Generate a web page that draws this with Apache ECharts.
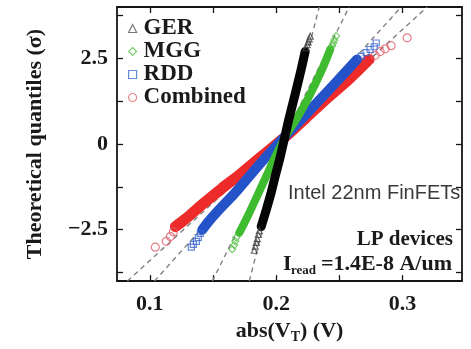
<!DOCTYPE html>
<html>
<head>
<meta charset="utf-8">
<script src="https://cdn.jsdelivr.net/npm/echarts@6/dist/echarts.min.js"></script>
<style>
html,body{margin:0;padding:0;background:#fff;}
#c{width:471px;height:349px;}
</style>
</head>
<body>
<div id="c"></div>
<script>
// ---- data (abs(VT) in V, theoretical quantile in sigma) ----
const seriesNames = ['GER', 'MGG', 'RDD', 'Combined'];

// dense central bands [x, y]
const gerBand = [[0.2229,2.70],[0.2198,2.19],[0.2142,1.34],[0.2103,0.77],[0.2071,0.26],[0.2032,-0.37],[0.1992,-0.94],[0.1953,-1.51],[0.1913,-2.02],[0.1881,-2.41]];
const mggBand = [[0.2427,2.76],[0.2364,2.19],[0.2253,1.34],[0.2166,0.77],[0.2079,0.26],[0.1992,-0.37],[0.1921,-0.94],[0.1850,-1.51],[0.1779,-2.07],[0.1708,-2.59]];
const rddBand = [[0.2640,2.47],[0.2498,1.90],[0.2356,1.34],[0.2213,0.77],[0.2079,0.26],[0.1921,-0.37],[0.1787,-0.94],[0.1676,-1.42],[0.1565,-1.85],[0.1470,-2.24],[0.1415,-2.50]];
const combBand = [[0.2735,2.47],[0.2577,1.90],[0.2403,1.34],[0.2237,0.77],[0.2087,0.26],[0.1881,-0.37],[0.1715,-0.88],[0.1565,-1.31],[0.1415,-1.76],[0.1281,-2.19],[0.1202,-2.41]];

// sparse tail points [x, y]
const gerTails = [[0.2237,2.81],[0.2245,2.90],[0.2253,2.98],[0.2261,3.07],[0.2269,3.15],
                  [0.1866,-2.53],[0.1858,-2.64],[0.1850,-2.76],[0.1842,-2.87],[0.1834,-2.98],[0.1826,-3.10]];
const mggTails = [[0.2443,2.87],[0.2451,2.95],[0.2459,3.04],[0.2474,3.15],
                  [0.1684,-2.73],[0.1676,-2.84],[0.1668,-2.95],[0.1652,-3.07]];
const rddTails = [[0.2672,2.56],[0.2711,2.67],[0.2743,2.76],[0.2775,2.84],[0.2791,2.95],
                  [0.1399,-2.61],[0.1383,-2.73],[0.1368,-2.84],[0.1344,-2.93],[0.1328,-3.01]];
const combTails = [[0.2783,2.59],[0.2822,2.70],[0.2862,2.78],[0.2909,2.87],[0.3036,3.10],
                   [0.1186,-2.56],[0.1162,-2.70],[0.1130,-2.84],[0.1043,-3.01]];

// dashed reference lines: [x at y=-4, x at y=4]
const gerFit  = [[0.1787,-4],[0.2340,4]];
const mggFit  = [[0.1494,-4],[0.2577,4]];
const rddFit  = [[0.1036,-4],[0.2988,4]];
const combFit = [[0.0822,-4],[0.3194,4]];

// axes
const xMin = 0.074, xMax = 0.347;
const yMin = -4, yMax = 4;
const xLabels = [0.1, 0.2, 0.3];
const xTicks = [0.1, 0.15, 0.2, 0.25, 0.3];
const yLabels = [-2.5, 0, 2.5];
const yTicks = [-3.75, -2.5, -1.25, 0, 1.25, 2.5, 3.75];

// ---- chart ----
const serif = '"Liberation Serif", "DejaVu Serif", serif';
const axisCol = '#151515';
const chart = echarts.init(document.getElementById('c'), null, {renderer:'canvas'});

function xAxisDef(pos, show) {
  return {
    type:'value', position: pos, min:xMin, max:xMax,
    axisLine:{show:true, onZero:false, lineStyle:{color:axisCol, width:1.8}},
    axisTick:{show:true, inside:true, length:6, customValues:xTicks, lineStyle:{color:axisCol, width:1.3}},
    axisLabel:{show:show, customValues:xLabels, margin:12, formatter:v=>String(v),
               fontFamily:serif, fontWeight:'bold', fontSize:22, color:'#1a1a1a'},
    splitLine:{show:false}
  };
}
function yAxisDef(pos, show) {
  return {
    type:'value', position: pos, min:yMin, max:yMax,
    axisLine:{show:true, onZero:false, lineStyle:{color:axisCol, width:1.8}},
    axisTick:{show:true, inside:true, length:6, customValues:yTicks, lineStyle:{color:axisCol, width:1.3}},
    axisLabel:{show:show, customValues:yLabels, margin:9, formatter:v=>String(v).replace('-', '\u2212'),
               fontFamily:serif, fontWeight:'bold', fontSize:22, color:'#1a1a1a'},
    splitLine:{show:false}
  };
}

const xb = xAxisDef('bottom', true);
xb.name = '{a|abs(V}{s|T}{a|) (V)}';
xb.nameLocation = 'middle';
xb.nameGap = 36;
xb.nameTextStyle = {rich:{
  a:{fontFamily:serif, fontWeight:'bold', fontSize:22, color:'#1a1a1a'},
  s:{fontFamily:serif, fontWeight:'bold', fontSize:14, color:'#1a1a1a', padding:[12,0,0,0]}
}};
const yl = yAxisDef('left', true);
yl.name = 'Theoretical quantiles (\u03C3)';
yl.nameLocation = 'middle';
yl.nameGap = 71;
yl.nameTextStyle = {fontFamily:serif, fontWeight:'bold', fontSize:22, color:'#1a1a1a'};

function fitLine(name, data) {
  return {name:name, type:'line', data:data, symbol:'none', silent:true, z:1,
          lineStyle:{color:'#808080', width:1.4, type:[5,4]}};
}
function band(name, data, color, w) {
  return {name:name, type:'line', data:data, symbol:'none', smooth:0.3, z:2,
          lineStyle:{color:color, width:w, cap:'round', join:'round'}};
}
function tails(name, data, symbol, color, size) {
  return {name:name, type:'scatter', data:data, symbol:symbol, symbolSize:size, z:3,
          itemStyle:{color:'rgba(0,0,0,0)', borderColor:color, borderWidth:1.2}};
}

chart.setOption({
  animation:false,
  backgroundColor:'#fff',
  grid:{left:117, right:9, top:7, bottom:63},
  xAxis:[xb, xAxisDef('top', false)],
  yAxis:[yl, yAxisDef('right', false)],
  legend:{
    orient:'vertical', left:128, top:17, padding:0, itemGap:0,
    itemWidth:8, itemHeight:8, selectedMode:false,
    textStyle:{fontFamily:serif, fontWeight:'bold', fontSize:23, color:'#1a1a1a', padding:[0,0,0,2]},
    data:[
      {name:'GER', icon:'triangle', itemStyle:{color:'rgba(0,0,0,0)', borderColor:'#555', borderWidth:1.2}},
      {name:'MGG', icon:'diamond', itemStyle:{color:'rgba(0,0,0,0)', borderColor:'#5ec24e', borderWidth:1.2}},
      {name:'RDD', icon:'rect', itemStyle:{color:'rgba(0,0,0,0)', borderColor:'#3d6fd0', borderWidth:1.2}},
      {name:'Combined', icon:'circle', itemStyle:{color:'rgba(0,0,0,0)', borderColor:'#e06a70', borderWidth:1.2}}
    ]
  },
  series:[
    fitLine('GER fit', gerFit), fitLine('MGG fit', mggFit), fitLine('RDD fit', rddFit), fitLine('Combined fit', combFit),
    band('Combined band', combBand, '#ee2b2b', 11),
    band('RDD band', rddBand, '#2352c9', 10),
    band('MGG band', mggBand, '#3fbb2f', 8),
    band('GER band', gerBand, '#050505', 9),
    tails('Combined', combTails, 'circle', '#e0606a', 8),
    tails('RDD', rddTails, 'rect', '#3a66d0', 6),
    tails('MGG', mggTails, 'diamond', '#55c045', 7),
    tails('GER', gerTails, 'triangle', '#444', 6)
  ],
  graphic:[
    {type:'text', left:288, top:183, style:{text:'Intel 22nm FinFETs', font:'20px "Liberation Sans", Arial, sans-serif', fill:'#3a3a3a'}},
    {type:'text', x:453, y:240, style:{text:'LP devices', align:'right', verticalAlign:'middle',
      font:'bold 21px "Liberation Serif", serif', fill:'#1a1a1a'}},
    {type:'text', x:283, y:264, style:{text:'I', align:'left', verticalAlign:'middle',
      font:'bold 22px "Liberation Serif", serif', fill:'#1a1a1a'}},
    {type:'text', x:291, y:271, style:{text:'read', align:'left', verticalAlign:'middle',
      font:'bold 13px "Liberation Serif", serif', fill:'#1a1a1a'}},
    {type:'text', x:452, y:264, style:{text:'=1.4E-8 A/um', align:'right', verticalAlign:'middle',
      font:'bold 22px "Liberation Serif", serif', fill:'#1a1a1a'}}
  ]
});
</script>
</body>
</html>
